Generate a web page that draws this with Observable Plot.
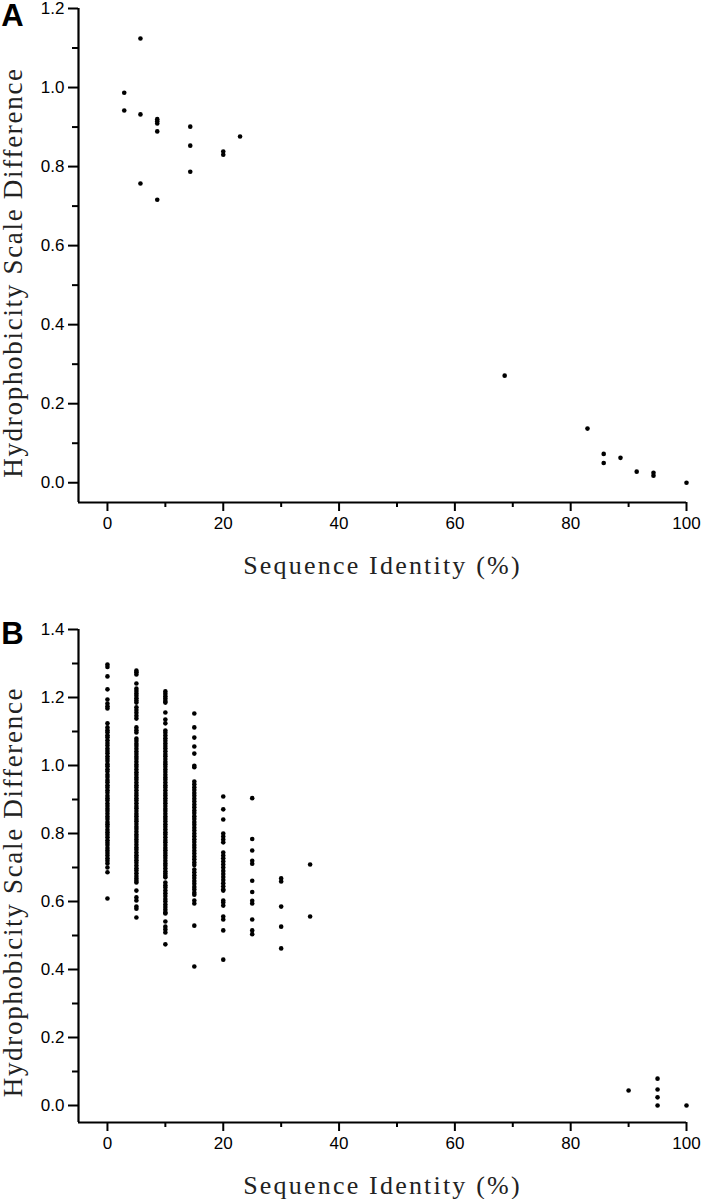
<!DOCTYPE html>
<html>
<head>
<meta charset="utf-8">
<script src="https://cdn.jsdelivr.net/npm/d3@7"></script>
<script src="https://cdn.jsdelivr.net/npm/@observablehq/plot@0.6"></script>
<style>
  html, body { margin: 0; padding: 0; background: #fff; }
  #chart { width: 703px; }
  #chart svg { display: block; }
</style>
</head>
<body>
<div id="chart"></div>
<script>
// ---------- Labels ----------
const panelLabels = ["A", "B"];
const xTitle = "Sequence Identity (%)";
const yTitle = "Hydrophobicity Scale Difference";
const xMajorTicks = [0, 20, 40, 60, 80, 100];
const xMinorTicks = [10, 30, 50, 70, 90];
const yMajorTicksA = [0, 0.2, 0.4, 0.6, 0.8, 1.0, 1.2];
const yMinorTicksA = [0.1, 0.3, 0.5, 0.7, 0.9, 1.1];
const yMajorTicksB = [0, 0.2, 0.4, 0.6, 0.8, 1.0, 1.2, 1.4];
const yMinorTicksB = [0.1, 0.3, 0.5, 0.7, 0.9, 1.1, 1.3];

// ---------- Panel A data ----------
const aIdentity = [2.9, 2.9, 5.7, 5.7, 5.7, 8.6, 8.6, 8.6, 8.6, 8.6, 14.3, 14.3, 14.3, 20.0, 20.0, 22.9,
                   68.6, 82.9, 85.7, 85.7, 88.6, 91.4, 94.3, 94.3, 100];
const aDiff = [0.987, 0.942, 1.124, 0.932, 0.757, 0.920, 0.915, 0.909, 0.889, 0.716, 0.901, 0.853, 0.787, 0.838, 0.830, 0.876,
               0.271, 0.137, 0.073, 0.050, 0.063, 0.028, 0.025, 0.018, 0.000];

// ---------- Panel B data (one list per identity column) ----------
const bIdentity = [0, 5, 10, 15, 20, 25, 30, 35, 90, 95, 100];
const bDiff0 = [1.297, 1.290, 1.262, 1.224, 1.194, 1.182, 1.174, 1.168, 1.124,
  1.112, 1.104, 1.098, 1.089, 1.083, 1.074, 1.066, 1.059, 1.050, 1.043, 1.036, 1.027, 1.020, 1.013, 1.004, 0.998,
  0.989, 0.982, 0.973, 0.966, 0.957, 0.951, 0.942, 0.935, 0.927, 0.920, 0.911, 0.904, 0.897, 0.888, 0.881, 0.873,
  0.866, 0.858, 0.850, 0.843, 0.834, 0.827, 0.820, 0.811, 0.804, 0.796, 0.789, 0.780, 0.773, 0.766, 0.757, 0.750,
  0.743, 0.735, 0.727, 0.720, 0.712, 0.700, 0.686, 0.609];
const bDiff5 = [1.279, 1.274, 1.268, 1.241, 1.226, 1.219, 1.212, 1.205, 1.198, 1.191, 1.185, 1.171, 1.163, 1.155,
  1.146, 1.138, 1.112, 1.104, 1.097,
  1.079, 1.072, 1.064, 1.057, 1.049, 1.041, 1.034, 1.026, 1.019, 1.011, 1.003, 0.996, 0.988, 0.980, 0.973, 0.965,
  0.958, 0.950, 0.942, 0.935, 0.927, 0.919, 0.912, 0.904, 0.897, 0.889, 0.881, 0.874, 0.866, 0.858, 0.851, 0.843,
  0.836, 0.828, 0.820, 0.813, 0.805, 0.797, 0.790, 0.782, 0.775, 0.767, 0.759, 0.752, 0.744, 0.736, 0.729, 0.721,
  0.714, 0.706, 0.698, 0.691, 0.683, 0.675, 0.668, 0.661, 0.656, 0.632, 0.612, 0.603, 0.585, 0.579, 0.553];
const bDiff10 = [1.218, 1.211, 1.204, 1.197, 1.190, 1.185, 1.156, 1.135, 1.124,
  1.103, 1.096, 1.088, 1.080, 1.073, 1.065, 1.057, 1.050, 1.042, 1.034, 1.027, 1.019, 1.011, 1.004, 0.996, 0.988,
  0.981, 0.973, 0.965, 0.958, 0.950, 0.942, 0.935, 0.927, 0.919, 0.912, 0.904, 0.896, 0.889, 0.881, 0.873, 0.866,
  0.858, 0.850, 0.843, 0.835, 0.827, 0.820, 0.812, 0.804, 0.797, 0.789, 0.781, 0.774, 0.766, 0.758, 0.751, 0.743,
  0.735, 0.728, 0.720, 0.712, 0.705, 0.697, 0.689, 0.682, 0.676, 0.671, 0.656, 0.648, 0.641, 0.632, 0.624, 0.616,
  0.607, 0.600, 0.591, 0.584, 0.576, 0.568, 0.565, 0.541, 0.526, 0.518, 0.509, 0.474];
const bDiff15 = [1.153, 1.112, 1.082, 1.056, 1.035, 0.999, 0.995,
  0.953, 0.945, 0.936, 0.928, 0.919, 0.911, 0.902, 0.894, 0.885, 0.877, 0.868, 0.860, 0.851, 0.843, 0.834, 0.826,
  0.817, 0.809, 0.800, 0.792, 0.783, 0.775, 0.766, 0.758, 0.749, 0.741, 0.732, 0.724, 0.715, 0.707, 0.694, 0.686,
  0.677, 0.669, 0.660, 0.652, 0.643, 0.635, 0.626, 0.620, 0.603, 0.594, 0.529, 0.409];
const bDiff20 = [0.909, 0.871, 0.841, 0.800, 0.791, 0.782, 0.774,
  0.744, 0.735, 0.727, 0.718, 0.709, 0.700, 0.690, 0.681, 0.672, 0.663, 0.654, 0.645, 0.636, 0.632,
  0.603, 0.597, 0.588, 0.556, 0.547, 0.515, 0.429];
const bDiff25 = [0.904, 0.784, 0.750, 0.720, 0.711, 0.661, 0.628, 0.602, 0.594, 0.547, 0.515, 0.504];
const bDiff30 = [0.668, 0.659, 0.585, 0.526, 0.462];
const bDiff35 = [0.709, 0.556];
const bDiff90 = [0.044];
const bDiff95 = [0.079, 0.047, 0.024, 0.000];
const bDiff100 = [0.000];
const bColumns = [bDiff0, bDiff5, bDiff10, bDiff15, bDiff20, bDiff25, bDiff30, bDiff35, bDiff90, bDiff95, bDiff100];

// ---------- Build tables ----------
const dataA = aIdentity.map((x, i) => ({x, y: aDiff[i]}));
const dataB = bIdentity.flatMap((x, i) => bColumns[i].map(y => ({x, y})));

const SANS = "Liberation Sans, Arial, sans-serif";
const SERIF = "Liberation Serif, Times New Roman, serif";

function panel({data, label, yMax, yMajor, yMinor, height, marginTop, marginBottom, yTitleDy, labelDy}) {
  const svg = Plot.plot({
    width: 703,
    height,
    marginTop,
    marginBottom,
    marginLeft: 78,
    marginRight: 17,
    style: {background: "white", color: "black", fontFamily: SANS, fontSize: "17px", overflow: "visible"},
    x: {domain: [-5, 100]},
    y: {domain: [-0.05, yMax]},
    marks: [
      Plot.axisY({ticks: yMajor, tickSize: 10, tickPadding: 4, strokeWidth: 2,
                  tickFormat: d => d.toFixed(1), fontSize: 17, fontFamily: SANS, label: null}),
      Plot.axisY({ticks: yMinor, tickSize: 6, strokeWidth: 2, tickFormat: () => "", label: null}),
      Plot.axisX({ticks: xMajorTicks, tickSize: 9, tickPadding: 5, strokeWidth: 2,
                  fontSize: 17, fontFamily: SANS, label: null}),
      Plot.axisX({ticks: xMinorTicks, tickSize: 5, strokeWidth: 2, tickFormat: () => "", label: null}),
      Plot.ruleX([-5], {stroke: "black", strokeWidth: 2.2}),
      Plot.ruleY([-0.05], {stroke: "black", strokeWidth: 2.2}),
      Plot.dot(data, {x: "x", y: "y", r: 2.3, fill: "black", stroke: null}),
      Plot.text([yTitle], {frameAnchor: "left", rotate: -90, dx: -65, dy: yTitleDy, textAnchor: "middle",
                           lineAnchor: "middle", fontSize: 27, fontFamily: SERIF, fill: "#222"}),
      Plot.text([xTitle], {frameAnchor: "bottom", dy: 63, textAnchor: "middle", lineAnchor: "middle",
                           fontSize: 26, fontFamily: SERIF, fill: "#222"}),
      Plot.text([label], {frameAnchor: "top-left", dx: -66, dy: labelDy, textAnchor: "middle", lineAnchor: "middle",
                          fontSize: 31, fontWeight: "bold", fontFamily: SANS, fill: "black"})
    ]
  });
  // widen the serif axis titles with letter spacing, as in the scanned figure
  d3.select(svg).selectAll("text").each(function() {
    const t = this.textContent;
    if (t === yTitle) this.style.letterSpacing = "1.7px";
    if (t === xTitle) this.style.letterSpacing = "2.2px";
  });
  return svg;
}

const chart = document.getElementById("chart");
chart.append(panel({data: dataA, label: panelLabels[0], yMax: 1.2, yMajor: yMajorTicksA, yMinor: yMinorTicksA,
                    height: 590, marginTop: 8, marginBottom: 88, yTitleDy: 17, labelDy: 8}));
chart.append(panel({data: dataB, label: panelLabels[1], yMax: 1.4, yMajor: yMajorTicksB, yMinor: yMinorTicksB,
                    height: 609, marginTop: 39, marginBottom: 77, yTitleDy: 16, labelDy: 5}));
</script>
</body>
</html>
